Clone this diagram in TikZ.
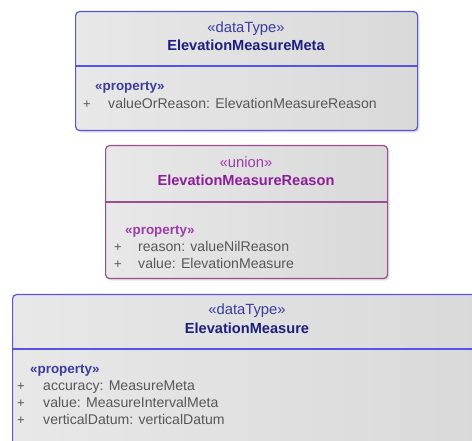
\documentclass[tikz,border=0pt]{standalone}
\usepackage{fontspec}
\setmainfont{Liberation Sans}
\usetikzlibrary{shadows}

\definecolor{boxL}{HTML}{E8E8E8}
\definecolor{boxR}{HTML}{D9D9D9}
\definecolor{dtborder}{HTML}{5555E0}
\definecolor{dtname}{HTML}{1E1E7E}
\definecolor{dtster}{HTML}{3C3C9C}
\definecolor{unborder}{HTML}{9C4C90}
\definecolor{unname}{HTML}{8C1E9A}
\definecolor{unster}{HTML}{9C3CA8}
\definecolor{proptext}{HTML}{575757}

\tikzset{
  x=1pt, y=-1pt,
  classbox/.style={rectangle, rounded corners=4pt, line width=1.2pt,
    left color=boxL, right color=boxR, anchor=north west, inner sep=0pt,
    drop shadow={shadow xshift=2pt, shadow yshift=-2pt, opacity=0.22}},
  dtbox/.style={classbox, draw=dtborder},
  unbox/.style={classbox, draw=unborder},
  stereo/.style={anchor=mid, inner sep=0pt, font=\fontsize{14.8}{17}\selectfont},
  cname/.style={anchor=mid, inner sep=0pt, font=\fontsize{14.6}{17}\selectfont\bfseries},
  propster/.style={anchor=mid west, inner sep=0pt, font=\fontsize{13.4}{16}\selectfont\bfseries},
  prop/.style={anchor=mid west, inner sep=0pt, text=proptext, font=\fontsize{14.1}{16}\selectfont},
  plus/.style={anchor=mid, inner sep=0pt, text=proptext, font=\fontsize{13}{15}\selectfont},
}

\begin{document}
\begin{tikzpicture}
\useasboundingbox (0,0) rectangle (472,441);
\clip (0,0) rectangle (472,441);
\fill[white] (0,0) rectangle (472,441);

% ElevationMeasureMeta
\node[dtbox, minimum width=342pt, minimum height=119pt] (meta) at (75,11) {};
\draw[dtborder, line width=1.2pt] (75,66) coordinate (metaL) -- (417,66) coordinate (metaR);
\node[stereo, text=dtster] (metaS) at (246,30) {«dataType»};
\node[cname, text=dtname] (metaN) at (246,48) {ElevationMeasureMeta};
\node[propster, text=dtster] (metaP) at (95,88) {«property»};
\node[plus] (metaPl1) at (87,106) {+};
\node[prop] (metaA1) at (108,106) {valueOrReason: ElevationMeasureReason};

% ElevationMeasureReason
\node[unbox, minimum width=282pt, minimum height=133pt] (reason) at (105,145) {};
\draw[unborder, line width=1.2pt] (105,202) coordinate (reasonL) -- (387,202) coordinate (reasonR);
\node[stereo, text=unster] (reasonS) at (246,165) {«union»};
\node[cname, text=unname] (reasonN) at (246,183) {ElevationMeasureReason};
\node[propster, text=unster] (reasonP) at (125,232) {«property»};
\node[plus] (reasonPl1) at (118,249) {+};
\node[prop] (reasonA1) at (138,249) {reason: valueNilReason};
\node[plus] (reasonPl2) at (118,266) {+};
\node[prop] (reasonA2) at (138,266) {value: ElevationMeasure};

% ElevationMeasure
\node[dtbox, minimum width=470pt, minimum height=180pt] (measure) at (12,294) {};
\draw[dtborder, line width=1.2pt] (12,349) coordinate (measureL) -- (482,349) coordinate (measureR);
\node[stereo, text=dtster] (measureS) at (247,312) {«dataType»};
\node[cname, text=dtname] (measureN) at (247,331) {ElevationMeasure};
\node[propster, text=dtster] (measureP) at (30,371) {«property»};
\node[plus] (measurePl1) at (21,388) {+};
\node[prop] (measureA1) at (43,388) {accuracy: MeasureMeta};
\node[plus] (measurePl2) at (21,405) {+};
\node[prop] (measureA2) at (43,405) {value: MeasureIntervalMeta};
\node[plus] (measurePl3) at (21,422) {+};
\node[prop] (measureA3) at (43,422) {verticalDatum: verticalDatum};
\end{tikzpicture}
\end{document}
